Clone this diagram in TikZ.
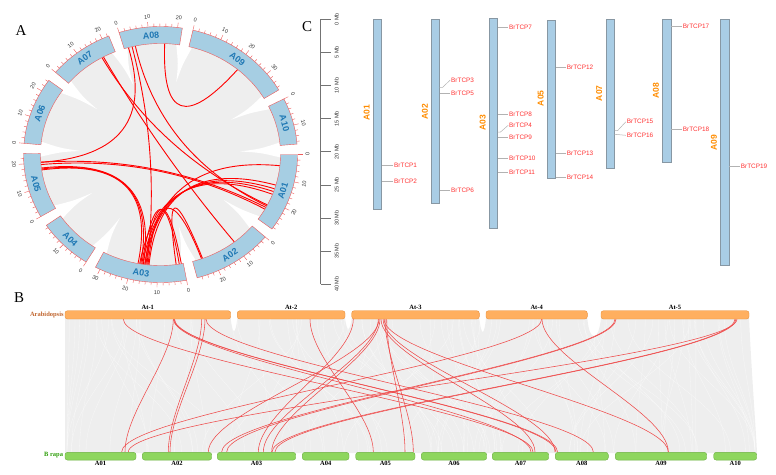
\documentclass[tikz,border=0pt]{standalone}
\usepackage{fontspec}
\setmainfont{Liberation Serif}
\setsansfont{Liberation Sans}
\usetikzlibrary{calc}

\definecolor{chrfill}{HTML}{A6CEE3}
\definecolor{chrtext}{HTML}{1F78B4}
\definecolor{tickred}{HTML}{EE5A5A}
\definecolor{ribbon}{HTML}{EEEEEE}
\definecolor{atfill}{HTML}{FFAF5F}
\definecolor{atedge}{HTML}{E8913E}
\definecolor{brfill}{HTML}{8ED65E}
\definecolor{bredge}{HTML}{6DB043}
\definecolor{arabcol}{HTML}{C0652E}
\definecolor{brapacol}{HTML}{2E9E0A}
\definecolor{idfill}{HTML}{A9CDE5}
\definecolor{idedge}{HTML}{8797A3}
\definecolor{idlabel}{HTML}{FF8C00}
\definecolor{genered}{HTML}{FF3333}
\definecolor{synred}{HTML}{EE4A4A}

\tikzset{
  panellbl/.style={font=\fontsize{15}{15}\selectfont, inner sep=0pt},
  chrbar/.style={fill=chrfill, draw=tickred, line width=0.4pt},
  chrtick/.style={draw=tickred, line width=0.4pt},
  chrlbl/.style={font=\sffamily\bfseries\fontsize{9}{9}\selectfont, text=chrtext, inner sep=0pt},
  ticklbl/.style={font=\sffamily\fontsize{5.5}{5.5}\selectfont, text=black!80, inner sep=0pt},
  clink/.style={draw=red, line width=0.9pt},
  slink/.style={draw=synred, line width=0.55pt},
  streak/.style={draw=white, line width=0.3pt, opacity=0.55},
  atbar/.style={fill=atfill, draw=atedge, line width=0.4pt, rounded corners=2.5pt, minimum height=8.3pt, inner sep=0pt},
  brbar/.style={fill=brfill, draw=bredge, line width=0.4pt, rounded corners=2.5pt, minimum height=7.7pt, inner sep=0pt},
  synlbl/.style={font=\bfseries\fontsize{6.5}{6.5}\selectfont, inner sep=0pt},
  idbar/.style={draw=idedge, fill=idfill, line width=0.6pt, minimum width=8.4pt, inner sep=0pt, anchor=north},
  idlbl/.style={font=\sffamily\bfseries\fontsize{8.5}{8.5}\selectfont, text=idlabel, rotate=90, inner sep=0pt},
  genelbl/.style={font=\sffamily\fontsize{6.4}{6.4}\selectfont, text=genered, anchor=west, inner sep=0.8pt},
  geneln/.style={draw=black!30, line width=0.5pt},
  axisln/.style={draw=black!55, line width=0.8pt},
  axlbl/.style={font=\sffamily\fontsize{5.5}{5.5}\selectfont, text=black!80, rotate=90, inner sep=0pt}
}

% one chromosome of the circle: name, start angle, length (Mb), label
\newcommand\circchr[4]{%
  \pgfmathsetmacro\angA{#2-90}%
  \pgfmathsetmacro\angB{#2-90+1.24*#3}%
  \draw[chrbar] plot[domain=\angA:\angB, samples=40] ({137*cos(\x)},{128*sin(\x)})
    -- plot[domain=\angB:\angA, samples=40] ({120*cos(\x)},{111*sin(\x)}) -- cycle;
  \pgfmathtruncatemacro\Lint{#3}%
  \foreach \m in {0,2,...,\Lint}{%
    \pgfmathsetmacro\ang{#2-90+1.24*\m}%
    \pgfmathsetmacro\tl{ifthenelse(mod(\m,10)==0,5,3)}%
    \draw[chrtick] ({137*cos(\ang)},{128*sin(\ang)}) -- ({(137+\tl)*cos(\ang)},{(128+\tl)*sin(\ang)});
  }%
  \foreach \m in {0,10,...,\Lint}{%
    \pgfmathsetmacro\tht{mod(#2+1.24*\m,360)}%
    \pgfmathsetmacro\ang{\tht-90}%
    \pgfmathsetmacro\rot{ifthenelse(and(\tht>90,\tht<270),180-\tht,-\tht)}%
    \node[ticklbl, rotate=\rot] at ({147*cos(\ang)},{138*sin(\ang)}) {\m};
  }%
  \pgfmathsetmacro\tht{mod(#2+0.62*#3,360)}%
  \pgfmathsetmacro\ang{\tht-90}%
  \pgfmathsetmacro\rot{ifthenelse(and(\tht>90,\tht<270),180-\tht,-\tht)}%
  \node[chrlbl, rotate=\rot] (#1) at ({128.5*cos(\ang)},{119.5*sin(\ang)}) {#4};
}

% link inside the circle between two angles
\newcommand\chord[2]{%
  \pgfmathsetmacro\angA{#1-90}\pgfmathsetmacro\angB{#2-90}%
  \draw[clink] ({120*cos(\angA)},{111*sin(\angA)})
    .. controls ({40*cos(\angA)},{37*sin(\angA)}) and ({40*cos(\angB)},{37*sin(\angB)})
    .. ({120*cos(\angB)},{111*sin(\angB)});
}

% link between Arabidopsis and B rapa
\newcommand\synlink[2]{%
  \draw[slink] (#1,319) .. controls (#1,359) and (#2,412) .. (#2,452);
}

\begin{document}
\begin{tikzpicture}[x=1pt, y=-1pt]
\useasboundingbox (0,0) rectangle (776,474);

%%% A
\node[panellbl] (pa) at (21,31) {A};
\begin{scope}[shift={(160.5,154.5)}]
  \fill[ribbon] (0,0) ellipse [x radius=120, y radius=111];
  \foreach \g in {87.66,127.86,166.75,210.6,238.7,272.75,307.67,340.11,371.43,61.97}{
    \pgfmathsetmacro\ang{\g-90}
    \pgfmathsetmacro\angA{\ang-4}
    \pgfmathsetmacro\angB{\ang+4}
    \pgfmathsetmacro\angC{\ang-1.2}
    \pgfmathsetmacro\angD{\ang+1.2}
    \fill[white] ({121*cos(\angA)},{112*sin(\angA)})
      .. controls ({100*cos(\angC)},{92*sin(\angC)}) .. ({80*cos(\ang)},{74*sin(\ang)})
      .. controls ({100*cos(\angD)},{92*sin(\angD)}) .. ({121*cos(\angB)},{112*sin(\angB)}) -- cycle;
  }
  \chord{2}{40}
  \chord{344.5}{266}
  \chord{346.3}{186.5}
  \chord{347.9}{117.6}
  \chord{330.8}{117}
  \chord{331.6}{142}
  \chord{266}{118.5}
  \chord{264.8}{119.5}
  \chord{263}{188.2}
  \chord{262.5}{189.5}
  \chord{262}{190.8}
  \chord{95.8}{187.5}
  \chord{106}{185.5}
  \chord{108}{187}
  \chord{109.5}{188.5}
  \chord{111}{190}
  \chord{189}{171}
  \chord{187.5}{170}
  \chord{172.5}{159.5}
  \chord{186}{160}
  \circchr{ca01}{90}{28.7}{A01}
  \circchr{ca02}{130.13}{27.7}{A02}
  \circchr{ca03}{169.02}{31.7}{A03}
  \circchr{ca04}{212.87}{19}{A04}
  \circchr{ca05}{240.97}{23.8}{A05}
  \circchr{ca06}{275.02}{24.5}{A06}
  \circchr{ca07}{309.94}{22.5}{A07}
  \circchr{ca08}{342.38}{21.6}{A08}
  \circchr{ca09}{373.70}{37.1}{A09}
  \circchr{ca10}{424.24}{17}{A10}
\end{scope}

%%% B
\node[panellbl] (pb) at (19.2,297.5) {B};
\fill[ribbon] (65,318) -- (230.7,318)
  .. controls (231.5,327) and (233,331) .. (234,331)
  .. controls (235,331) and (236.5,327) .. (237.3,318)
  -- (345,318)
  .. controls (346,326) and (347.5,329) .. (348.3,329)
  .. controls (349.2,329) and (350.7,326) .. (351.7,318)
  -- (479.3,318)
  .. controls (480.2,327) and (481.7,332) .. (482.7,332)
  .. controls (483.7,332) and (485.2,327) .. (486,318)
  -- (587.3,318)
  .. controls (588.5,331) and (591,336) .. (594,336)
  .. controls (597,336) and (599.5,331) .. (601,318)
  -- (749,318) .. controls (752,380) and (756,430) .. (757,453) -- (65,453) -- cycle;
\pgfmathsetseed{3}
\foreach \i in {1,...,110}{
  \pgfmathsetmacro\xa{68+678*rnd}
  \pgfmathsetmacro\xb{max(67,min(755,\xa+240*(rnd-0.5)))}
  \draw[streak] (\xa,319) .. controls (\xa,370) and (\xb,400) .. (\xb,452);
}
\synlink{123.3}{533}
\synlink{173.3}{125}
\synlink{173.5}{531}
\synlink{174}{556}
\synlink{174.5}{557.5}
\synlink{201.7}{168.3}
\synlink{205}{170}
\synlink{206}{593.3}
\synlink{310}{373.3}
\synlink{353.3}{258.3}
\synlink{378.3}{263.3}
\synlink{379}{208.3}
\synlink{380}{271.7}
\synlink{386.7}{405}
\synlink{385}{413.3}
\synlink{381}{535}
\synlink{383}{555}
\synlink{384}{668.3}
\synlink{541.7}{121.7}
\synlink{542}{668.3}
\synlink{615}{221.7}
\synlink{616}{226.7}
\synlink{735}{272}
\synlink{736}{275}
\synlink{737}{128.3}

\foreach \n/\xa/\xb in {1/65/230.7,2/237.3/345,3/351.7/479.3,4/486/587.3,5/601/749}{
  \pgfmathsetmacro\w{\xb-\xa}
  \node[atbar, minimum width=\w pt] (at\n) at ({(\xa+\xb)/2},314.85) {};
  \node[synlbl] (atl\n) at ({(\xa+\xb)/2},307.6) {At-\n};
}
\foreach \n/\xa/\xb in {01/65/136,02/142.3/211.7,03/217.3/295.7,04/302.3/349,05/355.7/415,
    06/421.3/486.7,07/492.3/548.7,08/555.3/608.3,09/615.3/706.7,10/713.7/756.7}{
  \pgfmathsetmacro\w{\xb-\xa}
  \node[brbar, minimum width=\w pt] (br\n) at ({(\xa+\xb)/2},456.2) {};
  \node[synlbl] (brl\n) at ({(\xa+\xb)/2},463.5) {A\n};
}
\node[synlbl, text=arabcol, anchor=east] (arab) at (63.8,315) {Arabidopsis};
\node[synlbl, text=brapacol, anchor=east] (brapa) at (63.2,455.3) {B rapa};

%%% C
\node[panellbl] (pc) at (307,26.7) {C};
\draw[axisln] (320.7,19.3) -- (320.7,284.3);
\foreach \m in {0,5,...,40}{
  \draw[axisln] (320.7,19.3+6.625*\m) -- (330.7,19.3+6.625*\m);
  \node[axlbl] (mb\m) at (336.7,19.3+6.625*\m) {\m\ Mb};
}
\node[idbar, minimum height=190pt] (c01) at (377.5,19.3) {};
\node[idbar, minimum height=184pt] (c02) at (435.5,19.3) {};
\node[idbar, minimum height=210pt] (c03) at (493.3,18.3) {};
\node[idbar, minimum height=157.7pt] (c05) at (551.5,20) {};
\node[idbar, minimum height=149pt] (c07) at (610.3,19.3) {};
\node[idbar, minimum height=143pt] (c08) at (666.7,19.3) {};
\node[idbar, minimum height=245.7pt] (c09) at (724.8,19.3) {};
\node[idlbl] (l01) at (366.7,113) {A01};
\node[idlbl] (l02) at (425,111.7) {A02};
\node[idlbl] (l03) at (482.7,123) {A03};
\node[idlbl] (l05) at (540.7,98.3) {A05};
\node[idlbl] (l07) at (599.3,93.3) {A07};
\node[idlbl] (l08) at (656,90.7) {A08};
\node[idlbl] (l09) at (714,142.7) {A09};

\node[genelbl] (g1) at (393.2,165.7) {BrTCP1};
\node[genelbl] (g2) at (393.2,181) {BrTCP2};
\node[genelbl] (g3) at (450.2,80) {BrTCP3};
\node[genelbl] (g5) at (450.2,93.3) {BrTCP5};
\node[genelbl] (g6) at (450.2,190.7) {BrTCP6};
\node[genelbl] (g7) at (508.2,27.7) {BrTCP7};
\node[genelbl] (g8) at (508.2,114.3) {BrTCP8};
\node[genelbl] (g4) at (508.2,125.3) {BrTCP4};
\node[genelbl] (g9) at (508.2,137.3) {BrTCP9};
\node[genelbl] (g10) at (508.2,158.7) {BrTCP10};
\node[genelbl] (g11) at (508.2,172.7) {BrTCP11};
\node[genelbl] (g12) at (565.9,67) {BrTCP12};
\node[genelbl] (g13) at (565.9,153) {BrTCP13};
\node[genelbl] (g14) at (565.9,177) {BrTCP14};
\node[genelbl] (g15) at (625.9,121.7) {BrTCP15};
\node[genelbl] (g16) at (625.9,135.3) {BrTCP16};
\node[genelbl] (g17) at (681.9,26.3) {BrTCP17};
\node[genelbl] (g18) at (681.9,129) {BrTCP18};
\node[genelbl] (g19) at (739.9,166) {BrTCP19};
\coordinate (s3) at (439.7,87.3);
\coordinate (s4) at (497.5,132);
\coordinate (s15) at (614.5,130.7);
\coordinate (s16) at (614.5,134.3);
\foreach \b/\g in {c01/g1,c01/g2,c02/g5,c02/g6,c03/g7,c03/g8,c03/g9,c03/g10,c03/g11,
    c05/g12,c05/g13,c05/g14,c08/g17,c08/g18,c09/g19}
  \draw[geneln] (\b.east |- \g.west) -- (\g.west);
\draw[geneln] (s3) -- ++(3,0) -- (g3.west);
\draw[geneln] (s4) -- ++(3,0) -- (g4.west);
\draw[geneln] (s15) -- ++(3,0) -- (g15.west);
\draw[geneln] (s16) -- (g16.west);
\end{tikzpicture}
\end{document}
